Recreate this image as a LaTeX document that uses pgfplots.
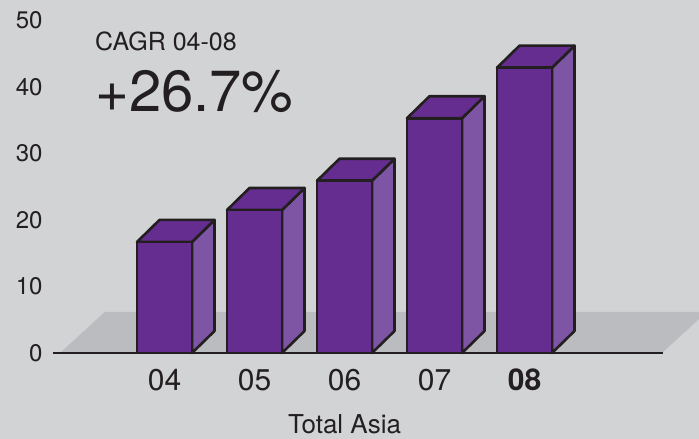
\documentclass[border=0pt]{standalone}
\usepackage{fontspec}
\setmainfont{TeX Gyre Heros}
\usepackage{pgfplots}
\pgfplotsset{compat=1.18}
\definecolor{bg}{HTML}{D2D3D5}
\definecolor{floor}{HTML}{BBBCBF}
\definecolor{front}{HTML}{662D91}
\definecolor{side}{HTML}{7E55A4}
\definecolor{edge}{HTML}{231F20}
\begin{document}
\begin{tikzpicture}
\clip (-53pt,-86pt) rectangle (646pt,353pt);
\fill[bg] (-53pt,-86pt) rectangle (646pt,353pt);
\begin{axis}[
  at={(0pt,0pt)}, anchor=south west,
  scale only axis, width=646pt, height=353pt,
  xmin=-1.239, xmax=5.939, ymin=0, ymax=53.08,
  clip=false,
  axis line style={draw=none},
  tick style={draw=none}, major tick length=0pt,
  /pgf/number format/assume math mode=true,
  ytick={0,10,20,30,40,50},
  yticklabel style={font=\fontsize{24}{28}\selectfont, text=edge, xshift=-7pt},
  xtick={0,1,2,3,4},
  xticklabels={04,05,06,07,\textbf{08}},
  xticklabel style={font=\fontsize{30}{34}\selectfont, text=edge, anchor=base, yshift=-37pt},
  every axis plot/.append style={line join=round},
]
% floor
\addplot[fill=floor, draw=none] coordinates {(-1.161,0) (5.528,0) (6.028,6.2) (-0.661,6.2)} -- cycle;
% baseline
\addplot[draw=edge, line width=2.4pt] coordinates {(-1.239,0) (5.539,0)};
% bar 04 : 16.7
\addplot[fill=side, draw=edge, line width=2.6pt] coordinates {(0.3056,0) (0.5556,3.31) (0.5556,20.01) (0.3056,16.7)} -- cycle;
\addplot[fill=front, draw=edge, line width=2.6pt] coordinates {(-0.3056,16.7) (0.3056,16.7) (0.5556,20.01) (-0.0556,20.01)} -- cycle;
\addplot[fill=front, draw=edge, line width=2.6pt] coordinates {(-0.3056,0) (0.3056,0) (0.3056,16.7) (-0.3056,16.7)} -- cycle;
% bar 05 : 21.5
\addplot[fill=side, draw=edge, line width=2.6pt] coordinates {(1.3056,0) (1.5556,3.31) (1.5556,24.81) (1.3056,21.5)} -- cycle;
\addplot[fill=front, draw=edge, line width=2.6pt] coordinates {(0.6944,21.5) (1.3056,21.5) (1.5556,24.81) (0.9444,24.81)} -- cycle;
\addplot[fill=front, draw=edge, line width=2.6pt] coordinates {(0.6944,0) (1.3056,0) (1.3056,21.5) (0.6944,21.5)} -- cycle;
% bar 06 : 25.9
\addplot[fill=side, draw=edge, line width=2.6pt] coordinates {(2.3056,0) (2.5556,3.31) (2.5556,29.21) (2.3056,25.9)} -- cycle;
\addplot[fill=front, draw=edge, line width=2.6pt] coordinates {(1.6944,25.9) (2.3056,25.9) (2.5556,29.21) (1.9444,29.21)} -- cycle;
\addplot[fill=front, draw=edge, line width=2.6pt] coordinates {(1.6944,0) (2.3056,0) (2.3056,25.9) (1.6944,25.9)} -- cycle;
% bar 07 : 35.3
\addplot[fill=side, draw=edge, line width=2.6pt] coordinates {(3.3056,0) (3.5556,3.31) (3.5556,38.61) (3.3056,35.3)} -- cycle;
\addplot[fill=front, draw=edge, line width=2.6pt] coordinates {(2.6944,35.3) (3.3056,35.3) (3.5556,38.61) (2.9444,38.61)} -- cycle;
\addplot[fill=front, draw=edge, line width=2.6pt] coordinates {(2.6944,0) (3.3056,0) (3.3056,35.3) (2.6944,35.3)} -- cycle;
% bar 08 : 42.9
\addplot[fill=side, draw=edge, line width=2.6pt] coordinates {(4.3056,0) (4.5556,3.31) (4.5556,46.21) (4.3056,42.9)} -- cycle;
\addplot[fill=front, draw=edge, line width=2.6pt] coordinates {(3.6944,42.9) (4.3056,42.9) (4.5556,46.21) (3.9444,46.21)} -- cycle;
\addplot[fill=front, draw=edge, line width=2.6pt] coordinates {(3.6944,0) (4.3056,0) (4.3056,42.9) (3.6944,42.9)} -- cycle;
% texts
\node[anchor=base west, inner sep=0pt, text=edge, font=\fontsize{25}{29}\selectfont] at (axis cs:-0.772,45.56) {CAGR 04-08};
\node[anchor=base west, inner sep=0pt, text=edge, font=\fontsize{58}{64}\selectfont] at (axis cs:-0.772,36.24) {+26.7\%};
\node[anchor=base, inner sep=0pt, text=edge, font=\fontsize{26}{30}\selectfont] at (axis cs:2,-12.15) {Total Asia};
\end{axis}
\end{tikzpicture}
\end{document}
